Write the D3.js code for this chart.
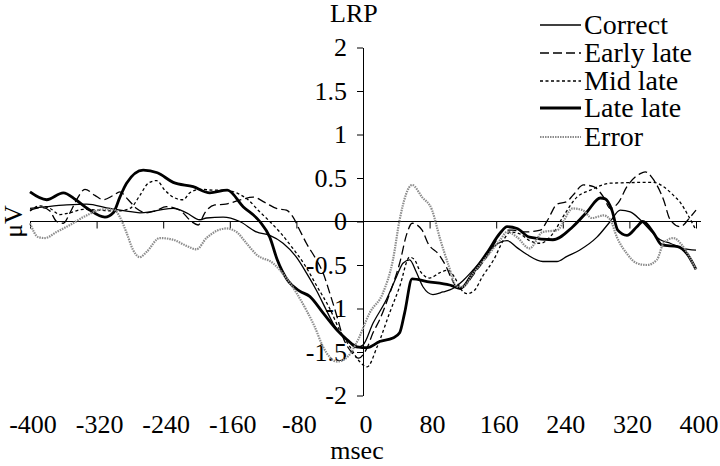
<!DOCTYPE html>
<html>
<head>
<meta charset="utf-8">
<script src="https://cdn.jsdelivr.net/npm/d3@7"></script>
<style>
  body { margin: 0; background: #fff; }
  svg text { font-family: "Liberation Serif", "Times New Roman", Times, "DejaVu Serif", serif !important; fill: #000; }
</style>
</head>
<body>
<div id="chart"></div>
<script>
// tick values
var xTicks = [-400, -320, -240, -160, -80, 0, 80, 160, 240, 320, 400];
var yTicks = [-2, -1.5, -1, -0.5, 0, 0.5, 1, 1.5, 2];

// series: [msec, uV]
var correct = [[-400,0.15],[-380,0.17],[-356,0.19],[-332,0.2],[-304,0.15],[-284,0.12],[-268,0.1],[-256,0.11],[-240,0.14],[-228,0.15],[-212,0.1],[-196,0.02],[-188,0.04],[-168,0.05],[-148,0.0],[-128,-0.12],[-112,-0.16],[-96,-0.25],[-80,-0.41],[-68,-0.59],[-56,-0.79],[-44,-1.02],[-36,-1.17],[-20,-1.35],[-8,-1.45],[0,-1.42],[12,-1.17],[28,-0.9],[40,-0.64],[48,-0.48],[56,-0.44],[64,-0.58],[72,-0.75],[84,-0.84],[96,-0.81],[108,-0.77],[120,-0.68],[132,-0.56],[145,-0.42],[157,-0.29],[173,-0.22],[185,-0.3],[197,-0.38],[216,-0.46],[233,-0.46],[245,-0.4],[260,-0.33],[281,-0.18],[297,0.0],[309,0.13],[321,0.11],[333,0.02],[345,-0.1],[357,-0.21],[369,-0.25],[384,-0.31],[400,-0.33]];

var earlyLate = [[-400,0.13],[-385,0.16],[-376,0.12],[-368,0.0],[-360,-0.02],[-352,0.1],[-344,0.25],[-334,0.37],[-322,0.3],[-312,0.25],[-300,0.3],[-292,0.34],[-282,0.25],[-272,0.15],[-260,0.1],[-250,0.12],[-236,0.17],[-220,0.13],[-206,0.0],[-198,-0.04],[-190,0.1],[-178,0.19],[-165,0.2],[-150,0.24],[-132,0.28],[-118,0.22],[-104,0.15],[-92,0.13],[-84,0.05],[-76,-0.1],[-68,-0.25],[-56,-0.44],[-48,-0.59],[-40,-0.82],[-31,-1.1],[-24,-1.33],[-14,-1.5],[-5,-1.57],[5,-1.45],[12,-1.28],[20,-1.13],[32,-0.83],[44,-0.48],[53,-0.13],[59,-0.02],[71,-0.1],[78,-0.25],[92,-0.39],[100,-0.52],[107,-0.67],[114,-0.77],[124,-0.72],[135,-0.58],[149,-0.4],[160,-0.22],[168,-0.1],[180,-0.1],[195,-0.12],[213,-0.1],[222,0.02],[233,0.2],[245,0.23],[252,0.3],[265,0.42],[277,0.4],[289,0.28],[297,0.15],[307,0.22],[317,0.4],[333,0.55],[339,0.57],[349,0.48],[361,0.25],[369,0.02],[381,-0.06],[393,0.05],[400,0.13]];

var midLate = [[-400,0.12],[-388,0.18],[-376,0.15],[-364,0.08],[-352,0.1],[-336,0.14],[-316,0.13],[-296,0.12],[-280,0.15],[-268,0.3],[-258,0.44],[-248,0.47],[-238,0.36],[-228,0.28],[-216,0.25],[-208,0.33],[-195,0.37],[-180,0.36],[-165,0.36],[-150,0.32],[-138,0.25],[-125,0.12],[-112,0.0],[-100,-0.12],[-85,-0.3],[-70,-0.5],[-55,-0.75],[-40,-1.0],[-28,-1.25],[-15,-1.45],[-5,-1.6],[5,-1.67],[17,-1.44],[32,-1.05],[44,-0.75],[56,-0.41],[62,-0.44],[68,-0.56],[80,-0.65],[92,-0.59],[102,-0.56],[110,-0.64],[117,-0.77],[125,-0.83],[134,-0.79],[143,-0.64],[157,-0.44],[169,-0.21],[177,-0.12],[190,-0.15],[200,-0.22],[213,-0.25],[228,-0.14],[240,0.05],[257,0.28],[273,0.36],[297,0.44],[349,0.45],[361,0.4],[373,0.3],[381,0.22],[390,0.08],[400,-0.1]];

var lateLate = [[-400,0.34],[-380,0.25],[-360,0.33],[-345,0.25],[-331,0.15],[-310,0.05],[-300,0.1],[-292,0.28],[-284,0.44],[-264,0.59],[-247,0.56],[-228,0.45],[-204,0.4],[-184,0.33],[-163,0.36],[-144,0.17],[-124,0.0],[-112,-0.18],[-103,-0.44],[-91,-0.67],[-76,-0.8],[-64,-0.86],[-48,-1.05],[-31,-1.25],[-19,-1.36],[-7,-1.44],[5,-1.45],[20,-1.38],[36,-1.34],[44,-1.28],[50,-1.05],[59,-0.66],[77,-0.69],[104,-0.73],[117,-0.77],[132,-0.59],[149,-0.36],[165,-0.13],[173,-0.06],[185,-0.08],[200,-0.18],[228,-0.21],[252,-0.06],[269,0.11],[285,0.27],[291,0.26],[299,0.13],[306,-0.1],[317,-0.16],[329,-0.06],[336,0.0],[349,-0.13],[359,-0.27],[378,-0.29],[389,-0.37],[400,-0.55]];

var errorResp = [[-400,-0.02],[-390,-0.18],[-382,-0.19],[-368,-0.12],[-352,-0.04],[-332,0.07],[-312,0.14],[-300,0.14],[-292,0.05],[-284,-0.13],[-276,-0.33],[-268,-0.41],[-260,-0.35],[-244,-0.19],[-228,-0.21],[-212,-0.28],[-200,-0.32],[-188,-0.19],[-164,-0.08],[-152,-0.12],[-140,-0.25],[-128,-0.38],[-108,-0.48],[-92,-0.65],[-80,-0.82],[-68,-1.02],[-58,-1.21],[-48,-1.44],[-31,-1.61],[-19,-1.56],[-7,-1.38],[8,-1.05],[24,-0.82],[36,-0.44],[44,0.02],[59,0.42],[71,0.28],[83,0.13],[92,-0.18],[102,-0.48],[113,-0.75],[120,-0.75],[132,-0.6],[149,-0.4],[165,-0.21],[173,-0.12],[185,-0.18],[200,-0.31],[216,-0.12],[233,-0.1],[252,0.15],[264,0.13],[275,0.04],[289,0.07],[297,0.02],[305,-0.18],[317,-0.37],[329,-0.48],[341,-0.5],[353,-0.44],[361,-0.25],[373,-0.19],[383,-0.27],[393,-0.42],[400,-0.55]];

var seriesNames = ["Correct", "Early late", "Mid late", "Late late", "Error"];
var seriesData = [correct, earlyLate, midLate, lateLate, errorResp];

var styles = [
  {stroke: "#000", width: 1.3, dash: null},
  {stroke: "#000", width: 1.3, dash: "9,4"},
  {stroke: "#000", width: 1.3, dash: "3,2.5"},
  {stroke: "#000", width: 2.8, dash: null},
  {stroke: "#8c8c8c", width: 2.2, dash: "1.5,1"}
];

var serif = "'Liberation Serif', 'Times New Roman', Times, 'DejaVu Serif', serif";

var svgWidth = 720;
var svgHeight = 466;

var svg = d3.select("#chart")
  .append("svg")
  .attr("width", svgWidth)
  .attr("height", svgHeight)
  .attr("font-family", serif);

var x = d3.scaleLinear().domain([-400, 400]).range([30, 696]);
var y = d3.scaleLinear().domain([-2, 2]).range([395.5, 47.5]);

// horizontal zero axis with downward ticks
svg.append("g")
  .attr("transform", `translate(0, ${y(0)})`)
  .call(d3.axisBottom(x).tickValues(xTicks).tickSize(7).tickSizeOuter(0).tickFormat(""))
  .call(g => g.select(".domain").attr("d", `M${x(-400)},0H${x(400) + 5}`));

// tick labels along the bottom
svg.append("g")
  .selectAll("text")
  .data(xTicks)
  .enter()
  .append("text")
  .attr("x", d => x(d) + 3)
  .attr("y", 433)
  .attr("text-anchor", "middle")
  .attr("font-family", serif)
  .style("font-size", "26px")
  .text(d => d);

// vertical axis through 0 ms
svg.append("g")
  .attr("transform", `translate(${x(0)}, 0)`)
  .call(d3.axisLeft(y).tickValues(yTicks).tickSize(6).tickSizeOuter(0).tickPadding(10)
    .tickFormat(d => d))
  .attr("font-family", serif)
  .call(g => g.selectAll("text").style("font-size", "26px"))
  .call(g => g.selectAll("path, line").attr("stroke", "#000"));

var line = d3.line()
  .x(d => x(d[0]))
  .y(d => y(d[1]))
  .curve(d3.curveMonotoneX);

svg.append("g")
  .selectAll("path")
  .data(seriesData)
  .enter()
  .append("path")
  .attr("fill", "none")
  .attr("stroke", (d, i) => styles[i].stroke)
  .attr("stroke-width", (d, i) => styles[i].width)
  .attr("stroke-dasharray", (d, i) => styles[i].dash)
  .attr("stroke-linejoin", "round")
  .attr("d", line);

// legend
var legendY = [25, 53, 81, 108, 137];
var legend = svg.append("g")
  .selectAll("g")
  .data(seriesNames)
  .enter()
  .append("g")
  .attr("transform", (d, i) => `translate(540, ${legendY[i]})`);

legend.append("line")
  .attr("x1", 0)
  .attr("x2", 41)
  .attr("stroke", (d, i) => styles[i].stroke)
  .attr("stroke-width", (d, i) => styles[i].width)
  .attr("stroke-dasharray", (d, i) => styles[i].dash);

legend.append("text")
  .attr("x", 44)
  .attr("y", 9)
  .style("font-size", "28px")
  .text(d => d);

// titles
svg.append("text")
  .attr("x", 330)
  .attr("y", 22)
  .style("font-size", "26px")
  .text("LRP");

svg.append("text")
  .attr("transform", `translate(22, ${y(0)}) rotate(-90)`)
  .attr("text-anchor", "middle")
  .style("font-size", "26px")
  .text("μV");

svg.append("text")
  .attr("x", 357)
  .attr("y", 459)
  .attr("text-anchor", "middle")
  .style("font-size", "26px")
  .text("msec");
</script>
</body>
</html>
